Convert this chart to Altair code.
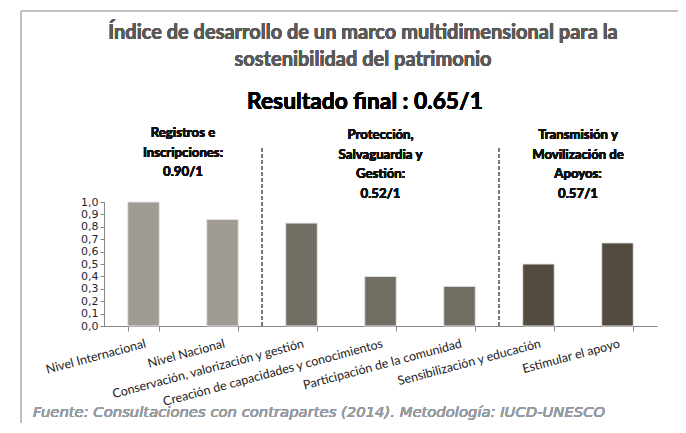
import altair as alt
import pandas as pd

categories = [
    "Nivel Internacional",
    "Nivel Nacional",
    "Conservación, valorización y gestión",
    "Creación de capacidades y conocimientos",
    "Participación de la comunidad",
    "Sensibilización y educación",
    "Estimular el apoyo",
]
values = [1.00, 0.86, 0.83, 0.40, 0.32, 0.50, 0.67]
groups = ["g1", "g1", "g2", "g2", "g2", "g3", "g3"]
group_colors = ["#a09b93", "#736e63", "#544b3f"]
y_ticks = [0.0, 0.1, 0.2, 0.3, 0.4, 0.5, 0.6, 0.7, 0.8, 0.9, 1.0]

title_lines = [
    "Índice de desarrollo de un marco multidimensional para la",
    "sostenibilidad del patrimonio",
]
result_text = "Resultado  final : 0.65/1"
group_labels = [
    ["Registros e", "Inscripciones:", "0.90/1"],
    ["Protección,", "Salvaguardia  y", "Gestión:", "0.52/1"],
    ["Transmisión  y", "Movilización  de", "Apoyos:", "0.57/1"],
]
source_text = "Fuente: Consultaciones con contrapartes  (2014). Metodología: IUCD-UNESCO"

W, H = 553, 124
STEP = W / len(categories)
FONT = "Lato"

df = pd.DataFrame({"cat": categories, "val": values, "grp": groups})

bars = alt.Chart(df).mark_bar(stroke="#e6e6e6", strokeWidth=1).encode(
    x=alt.X(
        "cat:N",
        sort=categories,
        scale=alt.Scale(paddingInner=0.6, paddingOuter=0.3),
        axis=alt.Axis(
            title=None,
            labelAngle=345,
            labelAlign="right",
            labelBaseline="top",
            labelFont=FONT,
            labelFontSize=12.5,
            labelColor="#222222",
            labelPadding=6,
            labelLimit=0,
            labelOverlap=False,
            tickBand="extent",
            tickSize=5,
            tickColor="#868686",
            domainColor="#868686",
        ),
    ),
    y=alt.Y(
        "val:Q",
        scale=alt.Scale(domain=[0, 1], nice=False),
        axis=alt.Axis(
            title=None,
            values=y_ticks,
            labelExpr="replace(format(datum.value, '.1f'), '.', ',')",
            labelFont="DejaVu Sans",
            labelFontSize=11,
            labelColor="#1f1f33",
            labelPadding=2,
            tickSize=4,
            tickColor="#868686",
            domainColor="#868686",
            grid=False,
        ),
    ),
    color=alt.Color(
        "grp:N",
        scale=alt.Scale(domain=["g1", "g2", "g3"], range=group_colors),
        legend=None,
    ),
)

layers = [bars]

# dashed separators between groups
for b in [2, 5]:
    layers.append(
        alt.Chart(df).mark_rule(color="#7a7a7a", strokeWidth=2, strokeDash=[4, 2]).encode(
            x=alt.value(b * STEP), y=alt.value(-54), y2=alt.value(H)
        )
    )

# frame lines (document border)
layers.append(
    alt.Chart(df).mark_rule(color="#c0c0c0", strokeWidth=2).encode(
        x=alt.value(-83), y=alt.value(-191), y2=alt.value(240)
    )
)
layers.append(
    alt.Chart(df).mark_rule(color="#c0c0c0", strokeWidth=2).encode(
        x=alt.value(-83), x2=alt.value(600), y=alt.value(-191)
    )
)

# title lines
for i, t in enumerate(title_lines):
    layers.append(
        alt.Chart(df).mark_text(
            text=t, font=FONT, fontSize=20, fontWeight="bold", color="#5a5a5a",
            align="center", baseline="middle",
        ).encode(x=alt.value(259), y=alt.value(-169 + i * 27))
    )

layers.append(
    alt.Chart(df).mark_text(
        text=result_text, font=FONT, fontSize=22.8, fontWeight="bold", color="#000000",
        align="center", baseline="middle",
    ).encode(x=alt.value(261), y=alt.value(-100))
)

group_centers = [1.0, 3.5, 6.0]
group_top = [-69, -67, -67]
for gc, gl, gt in zip(group_centers, group_labels, group_top):
    for j, line in enumerate(gl):
        layers.append(
            alt.Chart(df).mark_text(
                text=line, font=FONT, fontSize=13.2, fontWeight="bold", color="#111111",
                align="center", baseline="middle",
            ).encode(x=alt.value(gc * STEP), y=alt.value(gt + j * 19.7))
        )

layers.append(
    alt.Chart(df).mark_text(
        text=source_text, font="DejaVu Sans", fontSize=14.8, fontStyle="italic",
        fontWeight="normal", color="#959ba2",
        align="left", baseline="middle",
    ).encode(x=alt.value(-71), y=alt.value(211))
)

chart = alt.layer(*layers).properties(
    width=W,
    height=H,
    padding={"left": 96, "top": 194, "right": 21, "bottom": 97},
    autosize=alt.AutoSizeParams(type="none"),
).configure(background="white").configure_view(stroke=None)

chart.save("out.html", embed_options={"renderer": "svg", "actions": False})
